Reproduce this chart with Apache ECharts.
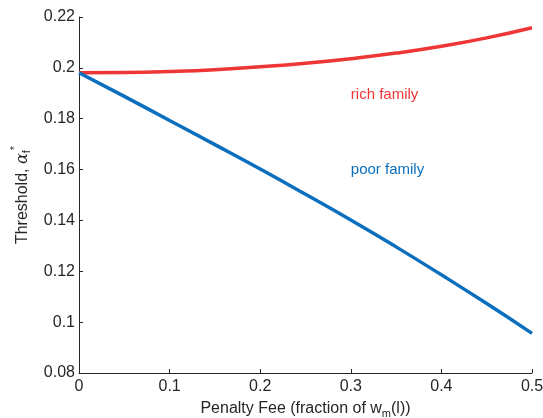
<!DOCTYPE html>
<html>
<head>
<meta charset="utf-8">
<script src="https://cdn.jsdelivr.net/npm/echarts@6/dist/echarts.min.js"></script>
<style>
  html, body { margin: 0; padding: 0; background: #fff; }
  #chart { width: 543px; height: 418px; }
</style>
</head>
<body>
<div id="chart"></div>
<script>
// Penalty fee as fraction of w_m(l)
const penaltyFee = [0, 0.05, 0.1, 0.15, 0.2, 0.25, 0.3, 0.35, 0.4, 0.45, 0.5];
// Threshold alpha_f* for each family type
const richThreshold = [0.1981, 0.1982, 0.1986, 0.1993, 0.2004, 0.2018, 0.2036, 0.2058, 0.2085, 0.2118, 0.2158];
const poorThreshold = [0.1981, 0.1888, 0.1793, 0.1698, 0.1602, 0.1503, 0.1402, 0.1296, 0.1186, 0.1073, 0.0956];
// Annotation anchors [x, y] in data units
const richLabelAt = [0.3, 0.1892];
const poorLabelAt = [0.3, 0.1597];

const RED = '#ee3636';
const BLUE = '#0b6fbe';
const INK = '#262626';
const FONT = 'Liberation Sans, Arial, Helvetica, sans-serif';

const pairs = (xs, ys) => xs.map((x, i) => [x, ys[i]]);

const axisCommon = {
  axisLine: { show: true, lineStyle: { color: INK, width: 1 } },
  axisTick: { show: true, inside: true, length: 4, lineStyle: { color: INK } },
  splitLine: { show: false }
};

const chart = echarts.init(document.getElementById('chart'));
chart.setOption({
  animation: false,
  backgroundColor: '#fff',
  grid: { left: 79, right: 11, top: 17, bottom: 45, containLabel: false, outerBoundsMode: 'none' },
  xAxis: Object.assign({
    type: 'value', min: 0, max: 0.5, interval: 0.1,
    name: '{n|Penalty Fee (fraction of w}{s|m}{n|(l))}',
    nameLocation: 'middle', nameGap: 25,
    nameTextStyle: {
      rich: {
        n: { fontSize: 16, color: INK, fontFamily: FONT },
        s: { fontSize: 11, color: INK, fontFamily: FONT, padding: [10, 0, 0, 0] }
      }
    }
  }, axisCommon, {
    axisLabel: { color: INK, fontSize: 16, fontFamily: FONT, margin: 6 }
  }),
  yAxis: Object.assign({
    type: 'value', min: 0.08, max: 0.22, interval: 0.02,
    name: '{n|Threshold, }{a|α}{s|f}{u|*}',
    nameLocation: 'middle', nameGap: 40,
    nameTextStyle: {
      rich: {
        n: { fontSize: 16, color: INK, fontFamily: FONT },
        a: { fontSize: 16, color: INK, fontFamily: 'DejaVu Serif, serif', fontStyle: 'italic' },
        s: { fontSize: 11, color: INK, fontFamily: FONT, padding: [10, 0, 0, 0] },
        u: { fontSize: 11, color: INK, fontFamily: FONT, padding: [0, 0, 14, 0] }
      }
    }
  }, axisCommon, {
    axisLabel: { color: INK, fontSize: 16, fontFamily: FONT, margin: 4 }
  }),
  series: [
    {
      name: 'rich family', type: 'line', data: pairs(penaltyFee, richThreshold),
      smooth: true, showSymbol: false,
      lineStyle: { color: RED, width: 3.5 },
      markPoint: {
        symbol: 'circle', symbolSize: 0,
        label: { show: true, position: 'right', distance: 0, formatter: 'rich family', color: RED, fontSize: 15, fontFamily: FONT },
        data: [{ coord: richLabelAt }]
      }
    },
    {
      name: 'poor family', type: 'line', data: pairs(penaltyFee, poorThreshold),
      smooth: true, showSymbol: false,
      lineStyle: { color: BLUE, width: 3.5 },
      markPoint: {
        symbol: 'circle', symbolSize: 0,
        label: { show: true, position: 'right', distance: 0, formatter: 'poor family', color: BLUE, fontSize: 15, fontFamily: FONT },
        data: [{ coord: poorLabelAt }]
      }
    }
  ]
});
</script>
</body>
</html>
